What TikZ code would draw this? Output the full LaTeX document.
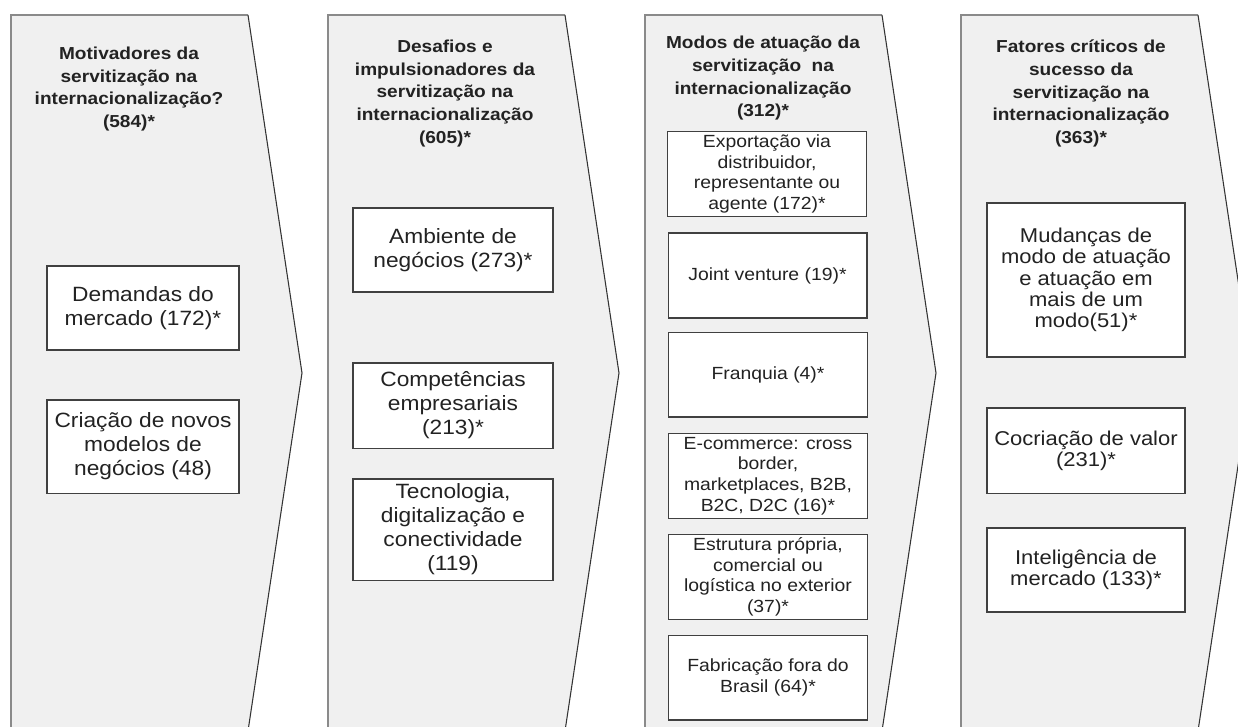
\documentclass[tikz,border=0pt]{standalone}
\usepackage{fontspec}
\setmainfont{Liberation Sans}[FakeStretch=1.1]
\definecolor{panelfill}{HTML}{F0F0F0}
\definecolor{edgegray}{HTML}{8A8A8A}
\definecolor{textgray}{HTML}{222222}

\begin{document}
\begin{tikzpicture}[
x=0.75pt, y=-0.75pt,
panel/.style={fill=panelfill},
paneledge/.style={draw=edgegray, line width=1.5pt},
tipedge/.style={draw=black!80, line width=0.8pt},
headtext/.style={
align=center,
font=\bfseries\fontsize{13}{17}\selectfont,
text=textgray,
inner sep=0 pt,
},
itembox/.style={
draw=black!75,
fill=white,
line width=1pt,
align=center,
text=textgray,
font=\fontsize{15.5}{18}\selectfont,
inner sep=0 pt,
},
factorbox/.style={
itembox,
minimum width=148.5pt,
font=\fontsize{15}{16}\selectfont,
},
modebox/.style={
itembox,
minimum width=149pt,
minimum height=63.5pt,
font=\fontsize{13.2}{15.4}\selectfont,
}
]
\useasboundingbox (0,0) rectangle (1238,727);

% chevron panels
\foreach \x in {11,328,645,961} {
\path[panel] (\x,15) -- (\x+237,15) -- (\x+291,373) -- (\x+237,731) -- (\x,731) -- cycle;
\draw[paneledge] (\x,731) -- (\x,15) -- (\x+237,15);
\draw[tipedge] (\x+237,15) -- (\x+291,373) -- (\x+237,731);
}

% headings
\node[headtext] at (129,89) (mot)
{Motivadores da\\servitização na\\internacionalização?\\(584)*};
\node[headtext] at (445,93.5) (desaf)
{Desafios e\\impulsionadores da\\servitização na\\internacionalização\\(605)*};
\node[headtext] at (763,78.5) (modos)
{Modos de atuação da\\servitização\ \ na\\internacionalização\\(312)*};
\node[headtext] at (1081,93.5) (fator)
{Fatores críticos de\\sucesso da\\servitização na\\internacionalização\\(363)*};

% motivadores
\node[itembox, minimum width=144pt, minimum height=63pt] at (143,308) (dem)
{Demandas do\\mercado (172)*};
\node[itembox, minimum width=144pt, minimum height=70pt] at (143,446.5) (cria)
{Criação de novos\\modelos de\\negócios (48)};

% desafios e impulsionadores
\node[itembox, minimum width=150pt, minimum height=63pt] at (453,250) (amb)
{Ambiente de\\negócios (273)*};
\node[itembox, minimum width=150pt, minimum height=64pt] at (453,405.5) (comp)
{Competências\\empresariais\\(213)*};
\node[itembox, minimum width=150pt, minimum height=76pt] at (453,529.5) (tec)
{Tecnologia,\\digitalização e\\conectividade\\(119)};

% modos de atuacao
\node[modebox] at (767,174) (exp)
{Exportação via\\distribuidor,\\representante ou\\agente (172)*};
\node[modebox] at (767.5,275.5) (jv) {Joint venture (19)*};
\node[modebox] at (768,374.5) (fran) {Franquia (4)*};
\node[modebox] at (768,476) (ecom)
{E-commerce: cross\\border,\\marketplaces, B2B,\\B2C, D2C (16)*};
\node[modebox] at (768,577) (estr)
{Estrutura própria,\\comercial ou\\logística no exterior\\(37)*};
\node[modebox] at (768,677.5) (fab)
{Fabricação fora do\\Brasil (64)*};

% fatores criticos
\node[factorbox, minimum height=115.5pt] at (1086,280) (mud)
{Mudanças de\\modo de atuação\\e atuação em\\mais de um\\modo(51)*};
\node[factorbox, minimum height=64pt] at (1086,450.5) (cocr)
{Cocriação de valor\\(231)*};
\node[factorbox, minimum height=63pt] at (1086,570) (intel)
{Inteligência de\\mercado (133)*};

\end{tikzpicture}
\end{document}
